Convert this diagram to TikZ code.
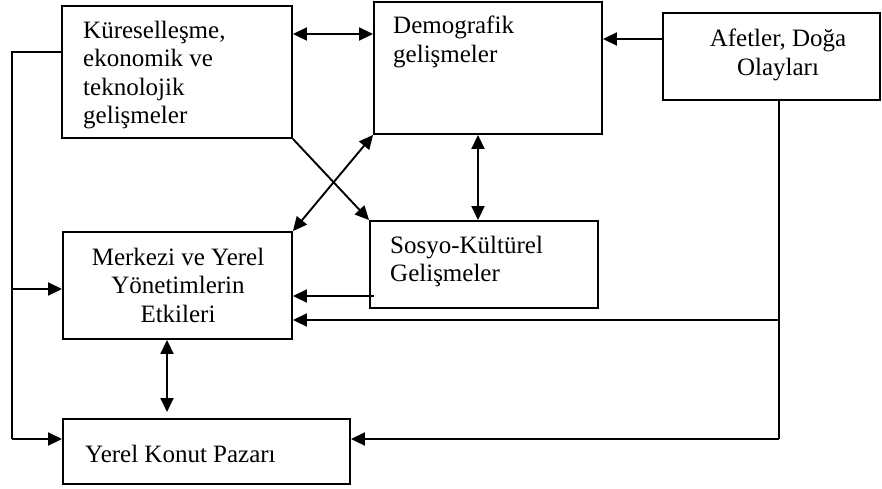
\documentclass[tikz,border=0pt]{standalone}
\usepackage{fontspec}
\setmainfont{Liberation Serif}
\usetikzlibrary{arrows.meta,calc}
\begin{document}
\begin{tikzpicture}[x=1pt,y=-1pt,
  box/.style={draw,line width=1.9pt,inner sep=0pt,fill=none},
  txt/.style={inner sep=0pt,font=\fontsize{25}{28.5}\selectfont},
  conn/.style={line width=1.9pt},
  arr/.style={conn,-{Triangle[length=14pt,width=13pt]}},
  darr/.style={conn,{Triangle[length=14pt,width=13pt]}-{Triangle[length=14pt,width=13pt]}}]
\useasboundingbox (0,0) rectangle (882,488);
% boxes
\node[box,minimum width=230pt,minimum height=132pt] (kur) at (177,72) {};
\node[box,minimum width=228pt,minimum height=132pt] (dem) at (488,68) {};
\node[box,minimum width=217pt,minimum height=87pt] (afe) at (771.5,56.5) {};
\node[box,minimum width=229pt,minimum height=107pt] (mer) at (177.5,285.5) {};
\node[box,minimum width=228pt,minimum height=87pt] (sos) at (484,264.5) {};
\node[box,minimum width=287pt,minimum height=65pt] (yer) at (206.5,451.5) {};
% texts
\node[txt,anchor=north west,align=left] (tkur) at (83,20.5) {Küreselleşme,\\ekonomik ve\\teknolojik\\gelişmeler};
\node[txt,anchor=north west,align=left] (tdem) at (393,16) {Demografik\\gelişmeler};
\node[txt,anchor=north,align=center] (tafe) at (778,29) {Afetler, Doğa\\Olayları};
\node[txt,anchor=north,align=center] (tmer) at (178,247.5) {Merkezi ve Yerel\\Yönetimlerin\\Etkileri};
\node[txt,anchor=north west,align=left] (tsos) at (390,235.5) {Sosyo-Kültürel\\Gelişmeler};
\node[txt,anchor=north west,align=left] (tyer) at (85,444.5) {Yerel Konut Pazarı};
% routing points
\coordinate (l1) at (12,52);
\coordinate (l2) at (12,289);
\coordinate (l3) at (12,439);
\coordinate (r2) at (779,320);
\coordinate (r3) at (779,439);
\coordinate (s1) at (374,296);
\coordinate (k1) at (333,34);
\coordinate (a1) at (630,39);
\coordinate (d1) at (478,180);
\coordinate (m1) at (167,380);
\coordinate (m2) at (167,412);
% connectors
\draw[conn] (kur.west |- l1) -- (l1) -- (l3);
\draw[arr] (l2) -- (mer.west |- l2);
\draw[arr] (l3) -- (yer.west |- l3);
\draw[darr] (kur.east |- k1) -- (dem.west |- k1);
\draw[arr] (afe.west |- a1) -- (dem.east |- a1);
\draw[conn] (afe.south -| r2) -- (r3);
\draw[arr] (r2) -- (mer.east |- r2);
\draw[arr] (r3) -- (yer.east |- r3);
\draw[arr] (s1) -- (mer.east |- s1);
\draw[darr] (dem.south -| d1) -- (sos.north -| d1);
\draw[arr] (kur.south east) -- (sos.north west);
\draw[darr] (dem.south west) -- (mer.north east);
\draw[darr] (mer.south -| m1) -- (m2);
\end{tikzpicture}
\end{document}
